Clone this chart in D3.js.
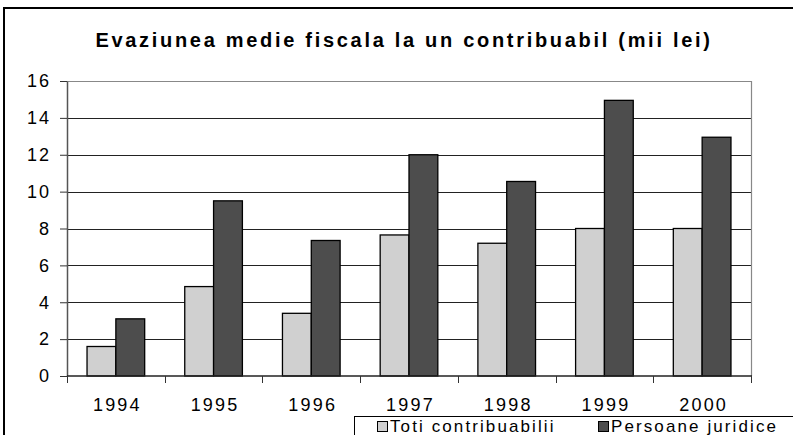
<!DOCTYPE html>
<html>
<head>
<meta charset="utf-8">
<script src="https://cdn.jsdelivr.net/npm/d3@7"></script>
<style>
  body { margin: 0; background: #fff; }
  svg { display: block; font-family: Arial, "Liberation Sans", sans-serif; }
</style>
</head>
<body>
<div id="chart"></div>
<script>
// data
let years = ['1994', '1995', '1996', '1997', '1998', '1999', '2000'];
let toti = [1.6, 4.85, 3.4, 7.65, 7.2, 8.0, 8.0];
let juridice = [3.1, 9.5, 7.35, 12.0, 10.55, 14.95, 12.95];
let seriesNames = ['Toti contribuabilii', 'Persoane juridice'];
let seriesColors = ['#d0d0d0', '#4d4d4d'];
let yTicks = [0, 2, 4, 6, 8, 10, 12, 14, 16];

let width = 793, height = 435;
let plot = {left: 67, right: 751, top: 81, bottom: 376};

let svg = d3.select('#chart').append('svg')
    .attr('width', width)
    .attr('height', height);

// outer frame, runs off the right and bottom
svg.append('rect')
    .attr('x', 4).attr('y', 8)
    .attr('width', 800).attr('height', 440)
    .attr('fill', 'none')
    .attr('stroke', '#000')
    .attr('stroke-width', 2);

svg.append('text')
    .attr('x', 404).attr('y', 47)
    .attr('text-anchor', 'middle')
    .attr('font-size', 20)
    .attr('font-weight', 'bold')
    .attr('letter-spacing', 2.7)
    .text('Evaziunea medie fiscala la un contribuabil (mii lei)');

let x = d3.scaleBand().domain(years).range([plot.left, plot.right]).paddingInner(0.41).paddingOuter(0.205);
let x1 = d3.scaleBand().domain(seriesNames).range([0, x.bandwidth()]);
let y = d3.scaleLinear().domain([0, 16]).range([plot.bottom, plot.top]);

// gridlines
svg.append('g')
    .selectAll('line')
    .data(yTicks.filter(d => d > 0 && d < 16))
    .enter()
    .append('line')
    .attr('x1', plot.left).attr('x2', plot.right)
    .attr('y1', d => Math.round(y(d)) + 0.5)
    .attr('y2', d => Math.round(y(d)) + 0.5)
    .attr('stroke', '#222')
    .attr('stroke-width', 1);

// plot border top/right
svg.append('path')
    .attr('d', `M${plot.left},${plot.top + 0.5}H${plot.right + 0.5}V${plot.bottom}`)
    .attr('fill', 'none')
    .attr('stroke', '#888')
    .attr('stroke-width', 1.2);

// bars
let rows = years.map((yr, i) => ({year: yr, values: [toti[i], juridice[i]]}));
svg.append('g')
    .selectAll('g')
    .data(rows)
    .enter()
    .append('g')
    .attr('transform', d => `translate(${x(d.year)},0)`)
    .selectAll('rect')
    .data(d => d.values.map((v, j) => ({name: seriesNames[j], value: v, color: seriesColors[j]})))
    .enter()
    .append('rect')
    .attr('x', d => x1(d.name))
    .attr('y', d => y(d.value))
    .attr('width', x1.bandwidth())
    .attr('height', d => y(0) - y(d.value))
    .attr('fill', d => d.color)
    .attr('stroke', '#000')
    .attr('stroke-width', 1.3);

// y axis
let yAxis = svg.append('g')
    .attr('transform', `translate(${plot.left},0)`)
    .call(d3.axisLeft(y).tickValues(yTicks).tickSize(7).tickPadding(0).tickSizeOuter(0));
yAxis.select('.domain').attr('stroke', '#555').attr('stroke-width', 1.5);
yAxis.selectAll('.tick line').attr('stroke', '#333');
yAxis.selectAll('.tick text')
    .attr('x', -16)
    .attr('font-size', 18)
    .attr('letter-spacing', 2)
    .attr('fill', '#000')
    .attr('font-family', 'Arial, "Liberation Sans", sans-serif');

// x axis: ticks at band boundaries
let xAxisG = svg.append('g').attr('transform', `translate(0,${plot.bottom})`);
xAxisG.append('line')
    .attr('x1', plot.left).attr('x2', plot.right + 1)
    .attr('stroke', '#222').attr('stroke-width', 1.5);
let step = x.step();
let bounds = years.map((d, i) => plot.left + i * step).concat([plot.right]);
xAxisG.selectAll('.tk')
    .data(bounds)
    .enter()
    .append('line')
    .attr('class', 'tk')
    .attr('x1', d => Math.round(d) + 0.5).attr('x2', d => Math.round(d) + 0.5)
    .attr('y1', 0).attr('y2', 7)
    .attr('stroke', '#333');
xAxisG.selectAll('text')
    .data(years)
    .enter()
    .append('text')
    .attr('x', d => x(d) + x.bandwidth() / 2 + 1.5)
    .attr('y', 34.5)
    .attr('text-anchor', 'middle')
    .attr('font-size', 18)
    .attr('letter-spacing', 2.2)
    .text(d => d);

// legend box, cut by the picture edge
let legend = svg.append('g');
legend.append('rect')
    .attr('x', 354.5).attr('y', 416.5)
    .attr('width', 460).attr('height', 40)
    .attr('fill', '#fff')
    .attr('stroke', '#000')
    .attr('stroke-width', 1);
let legX = [377, 598];
seriesNames.forEach((name, i) => {
    legend.append('rect')
        .attr('x', legX[i] + 0.5).attr('y', 421.5)
        .attr('width', 10).attr('height', 10)
        .attr('fill', seriesColors[i])
        .attr('stroke', '#000');
    legend.append('text')
        .attr('x', legX[i] + 13).attr('y', 431.5)
        .attr('font-size', 17)
        .attr('letter-spacing', 2.1)
        .text(name);
});
</script>
</body>
</html>
